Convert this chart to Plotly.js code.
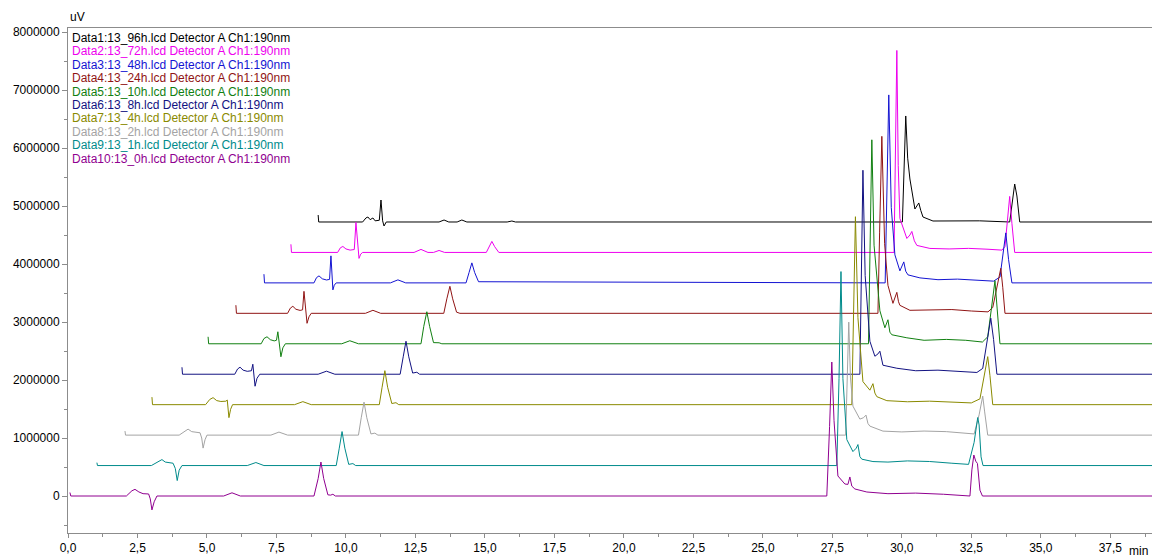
<!DOCTYPE html>
<html>
<head>
<meta charset="utf-8">
<script src="https://cdn.plot.ly/plotly-3.0.1.min.js"></script>
<style>html,body{margin:0;padding:0;background:#fff;}#chart{width:1155px;height:557px;}</style>
</head>
<body>
<div id="chart"></div>
<script>
// ---- data (display time in min, signal above each trace's own baseline in uV) ----
const seriesNames = [
  "Data1:13_96h.lcd Detector A Ch1:190nm",
  "Data2:13_72h.lcd Detector A Ch1:190nm",
  "Data3:13_48h.lcd Detector A Ch1:190nm",
  "Data4:13_24h.lcd Detector A Ch1:190nm",
  "Data5:13_10h.lcd Detector A Ch1:190nm",
  "Data6:13_8h.lcd Detector A Ch1:190nm",
  "Data7:13_4h.lcd Detector A Ch1:190nm",
  "Data8:13_2h.lcd Detector A Ch1:190nm",
  "Data9:13_1h.lcd Detector A Ch1:190nm",
  "Data10:13_0h.lcd Detector A Ch1:190nm"
];
const seriesColors = ["#000000","#ee00ee","#1414d2","#901414","#118011","#121282","#8a8a00","#a4a4a4","#008b8b","#900090"];
const baselineStep = 525000; // stacking offset between successive chromatograms (uV)
const stackIndex = [9,8,7,6,5,4,3,2,1,0];

const t1 = [9.0,9.02,10.6,10.72,10.79,10.87,10.97,11.05,11.2,11.26,11.32,11.37,11.45,13.35,13.53,13.7,14.0,14.17,14.35,15.8,15.97,16.1,30.02,30.08,30.14,30.21,30.29,30.47,30.55,30.61,30.68,30.76,31.12,32.0,32.8,33.88,33.98,34.06,34.14,34.18,34.24,39.0];
const v1 = [120e3,0,0,70e3,86e3,40e3,69e3,20e3,30e3,379e3,20e3,-69e3,0,0,34e3,0,0,34e3,0,0,17e3,0,0,900e3,1828e3,1100e3,741e3,224e3,280e3,328e3,200e3,86e3,17e3,25e3,20e3,0,400e3,655e3,448e3,300e3,0,0];

const t2 = [8.02,8.04,9.7,9.8,9.89,10.0,10.15,10.3,10.36,10.47,10.53,10.6,12.45,12.7,12.95,13.15,13.35,13.55,15.05,15.15,15.25,15.35,15.5,29.72,29.77,29.82,29.87,29.93,30.18,30.29,30.36,30.45,30.54,31.01,31.7,32.4,33.1,33.6,33.71,33.8,33.88,33.96,34.06,39.0];
const v2 = [140e3,0,0,80e3,103e3,60e3,40e3,50e3,517e3,-103e3,-30e3,0,0,52e3,0,0,34e3,0,0,100e3,190e3,100e3,0,0,1500e3,3483e3,1500e3,586e3,241e3,300e3,362e3,200e3,121e3,69e3,60e3,70e3,55e3,40e3,100e3,550e3,966e3,500e3,0,0];

const t3 = [7.05,7.07,8.85,8.94,9.03,9.15,9.3,9.41,9.46,9.53,9.58,9.65,11.6,11.87,12.15,14.32,14.43,14.53,14.63,14.77,29.4,29.46,29.53,29.62,29.75,29.93,30.0,30.07,30.14,30.22,30.65,31.3,32.0,32.7,33.3,33.53,33.64,33.74,33.84,33.96,39.0];
const v3 = [150e3,0,0,90e3,121e3,70e3,50e3,60e3,466e3,-121e3,-40e3,0,0,52e3,0,0,180e3,345e3,180e3,20e3,0,1500e3,3241e3,1300e3,483e3,207e3,280e3,362e3,200e3,138e3,86e3,55e3,65e3,40e3,30e3,100e3,500e3,862e3,400e3,0,0];

const t4 = [6.04,6.06,7.9,8.0,8.09,8.2,8.35,8.44,8.49,8.6,8.67,8.75,10.7,10.97,11.25,13.52,13.63,13.74,13.84,13.98,14.1,29.14,29.2,29.28,29.38,29.5,29.68,29.76,29.82,29.88,29.93,30.29,31.0,31.8,32.5,33.1,33.27,33.42,33.56,33.63,33.71,39.0];
const v4 = [140e3,0,0,90e3,121e3,70e3,50e3,60e3,379e3,-172e3,-60e3,0,0,52e3,0,0,250e3,466e3,250e3,20e3,0,0,1400e3,3052e3,1200e3,483e3,172e3,300e3,362e3,200e3,138e3,52e3,55e3,65e3,40e3,25e3,100e3,450e3,776e3,450e3,0,0];

const t5 = [5.04,5.06,6.95,7.05,7.16,7.28,7.42,7.5,7.55,7.66,7.73,7.82,9.85,10.14,10.45,12.7,12.8,12.91,13.01,13.15,13.35,13.45,28.8,28.86,28.92,29.0,29.21,29.39,29.45,29.5,29.57,29.64,30.18,30.8,31.6,32.3,32.9,33.09,33.22,33.35,33.43,33.53,39.0];
const v5 = [120e3,0,0,90e3,121e3,70e3,50e3,60e3,207e3,-224e3,-70e3,0,0,52e3,0,0,300e3,552e3,300e3,20e3,17e3,0,0,1700e3,3517e3,1700e3,569e3,276e3,350e3,414e3,200e3,155e3,103e3,60e3,75e3,60e3,30e3,120e3,600e3,1086e3,600e3,0,0];

const t6 = [4.1,4.12,6.0,6.1,6.19,6.3,6.45,6.6,6.65,6.73,6.8,6.9,9.0,9.3,9.6,11.95,12.06,12.16,12.26,12.4,12.55,12.65,28.49,28.55,28.6,28.68,28.85,29.03,29.14,29.21,29.28,29.32,29.82,30.5,31.3,32.1,32.7,32.91,33.05,33.2,33.3,33.42,39.0];
const v6 = [120e3,0,0,90e3,121e3,70e3,50e3,60e3,172e3,-207e3,-70e3,0,0,52e3,0,0,300e3,569e3,300e3,20e3,34e3,0,0,1700e3,3517e3,1700e3,569e3,310e3,350e3,397e3,200e3,155e3,103e3,60e3,70e3,50e3,30e3,100e3,500e3,966e3,600e3,0,0];

const t7 = [3.02,3.04,4.95,5.1,5.22,5.35,5.5,5.68,5.73,5.79,5.85,5.92,8.15,8.45,8.75,11.2,11.3,11.4,11.5,11.65,11.8,11.9,28.2,28.26,28.33,28.42,28.6,28.85,28.96,29.03,29.1,29.46,30.2,31.0,31.8,32.5,32.81,32.95,33.09,33.17,33.27,39.0];
const v7 = [130e3,0,0,90e3,121e3,70e3,55e3,60e3,80e3,-224e3,-80e3,0,0,52e3,0,0,300e3,586e3,300e3,20e3,34e3,0,0,1500e3,3241e3,1500e3,397e3,250e3,362e3,200e3,138e3,69e3,50e3,60e3,45e3,30e3,100e3,450e3,828e3,500e3,0,0];

const t8 = [2.05,2.07,4.0,4.2,4.32,4.45,4.6,4.75,4.81,4.86,4.93,5.0,7.3,7.59,7.9,10.45,10.55,10.65,10.75,10.9,11.04,11.15,27.98,28.04,28.09,28.15,28.24,28.49,28.62,28.71,28.78,28.85,29.32,30.0,30.8,31.6,32.3,32.6,32.78,32.91,32.98,33.09,39.0];
const v8 = [70e3,0,0,70e3,103e3,60e3,50e3,40e3,-50e3,-224e3,-80e3,0,0,52e3,0,0,300e3,569e3,300e3,20e3,34e3,0,0,900e3,1948e3,1000e3,500e3,276e3,300e3,345e3,200e3,155e3,69e3,55e3,70e3,60e3,40e3,20e3,350e3,672e3,400e3,0,0];

const t9 = [1.04,1.06,3.0,3.25,3.38,3.5,3.6,3.78,3.86,3.93,4.0,4.1,6.45,6.76,7.05,9.65,9.76,9.86,9.96,10.1,10.25,10.35,27.66,27.74,27.81,27.88,28.02,28.24,28.36,28.42,28.49,28.56,28.96,29.5,30.2,31.0,31.8,32.4,32.6,32.7,32.73,32.78,32.85,32.92,39.0];
const v9 = [50e3,0,0,70e3,103e3,60e3,50e3,40e3,-50e3,-259e3,-80e3,0,0,52e3,0,0,300e3,586e3,300e3,20e3,34e3,0,0,1500e3,3345e3,1500e3,448e3,241e3,300e3,362e3,155e3,110e3,69e3,60e3,80e3,70e3,40e3,20e3,400e3,780e3,828e3,700e3,150e3,0,0];

const t10 = [0.07,0.1,2.1,2.3,2.41,2.55,2.7,2.9,2.96,3.02,3.1,3.2,5.6,5.9,6.2,8.85,9.0,9.1,9.2,9.35,9.45,9.53,9.62,27.3,27.4,27.48,27.56,27.7,27.95,28.06,28.13,28.2,28.31,28.74,29.5,30.5,31.5,32.3,32.45,32.52,32.59,32.66,32.72,32.81,32.9,39.0];
const v10 = [60e3,0,0,90e3,115e3,70e3,40e3,35e3,-50e3,-240e3,-100e3,0,0,55e3,0,0,300e3,586e3,300e3,20e3,15e3,30e3,0,0,1200e3,2310e3,1300e3,345e3,207e3,200e3,328e3,170e3,121e3,69e3,40e3,50e3,30e3,0,0,450e3,707e3,600e3,560e3,100e3,0,0];

const timeSeries = [t1,t2,t3,t4,t5,t6,t7,t8,t9,t10];
const signalSeries = [v1,v2,v3,v4,v5,v6,v7,v8,v9,v10];

const xTickVals = [0,2.5,5,7.5,10,12.5,15,17.5,20,22.5,25,27.5,30,32.5,35,37.5];
const xTickText = ["0,0","2,5","5,0","7,5","10,0","12,5","15,0","17,5","20,0","22,5","25,0","27,5","30,0","32,5","35,0","37,5"];
const yTickVals = [0,1000000,2000000,3000000,4000000,5000000,6000000,7000000,8000000];
const yTickText = ["0","1000000","2000000","3000000","4000000","5000000","6000000","7000000","8000000"];

// ---- build traces ----
const traces = timeSeries.map((tt, i) => {
  const off = stackIndex[i] * baselineStep;
  return {
    type: 'scatter', mode: 'lines', name: seriesNames[i],
    x: tt, y: signalSeries[i].map(v => v + off),
    line: {color: seriesColors[i], width: 1},
    hoverinfo: 'skip', showlegend: false
  };
});

const font = "Liberation Sans, Arial, sans-serif";
const annotations = seriesNames.map((n, i) => ({
  xref: 'paper', yref: 'paper', x: 0.002, y: 1 - (1 + i * 13.4) / 505,
  xanchor: 'left', yanchor: 'top', showarrow: false, align: 'left',
  text: n, font: {family: font, size: 12, color: seriesColors[i]}
}));
annotations.push({xref:'paper', yref:'paper', x:0.0, y:1, yshift:2, xanchor:'left', yanchor:'bottom',
  showarrow:false, text:'uV', font:{family:font,size:12,color:'#000'}});
annotations.push({xref:'paper', yref:'paper', x:0.998, y:0, yshift:-9, xanchor:'right', yanchor:'top',
  showarrow:false, text:'min', font:{family:font,size:12,color:'#000'}});

const layout = {
  width: 1155, height: 557,
  margin: {l: 68, r: 3, t: 28, b: 24},
  paper_bgcolor: '#fff', plot_bgcolor: '#fff',
  showlegend: false,
  xaxis: {
    range: [0, 39.0], showgrid: false, zeroline: false,
    showline: true, linecolor: '#8c8c8c', linewidth: 1, mirror: true,
    ticks: 'outside', ticklen: 4, tickcolor: '#8c8c8c',
    tickvals: xTickVals, ticktext: xTickText,
    tickfont: {family: font, size: 12, color: '#000'},
    minor: {ticks: 'outside', ticklen: 3, dtick: 1.25, tickcolor: '#8c8c8c'}
  },
  yaxis: {
    range: [-638000, 8070000], showgrid: false, zeroline: false,
    showline: true, linecolor: '#8c8c8c', linewidth: 1,
    ticks: 'outside', ticklen: 5, tickcolor: '#8c8c8c',
    tickvals: yTickVals, ticktext: yTickText,
    tickfont: {family: font, size: 12, color: '#000'},
    minor: {ticks: 'outside', ticklen: 3, dtick: 500000, tickcolor: '#8c8c8c'}
  },
  annotations: annotations
};

Plotly.newPlot('chart', traces, layout, {displayModeBar: false, staticPlot: true});
</script>
</body>
</html>
